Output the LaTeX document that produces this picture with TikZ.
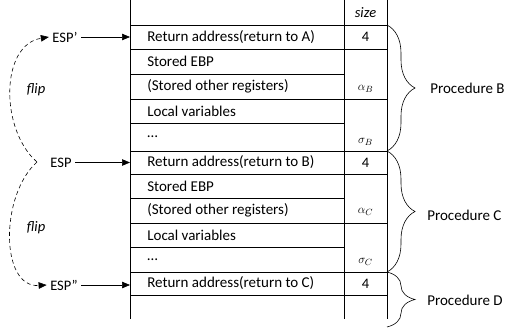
\documentclass[tikz,border=0pt]{standalone}
\usepackage{fontspec}
\setmainfont{Carlito}
\usetikzlibrary{arrows.meta,positioning,calc,decorations.pathreplacing}

\begin{document}
\begin{tikzpicture}[x=1pt, y=-1pt, >={Triangle[length=8pt,width=6.5pt]}, line width=0.6pt, font=\fontsize{14.5}{17}\selectfont]
\tikzstyle{row}=[anchor=west, inner sep=0pt, font=\fontsize{15}{17}\selectfont]
\tikzstyle{cell}=[inner sep=0pt]
\tikzstyle{sz}=[inner sep=0pt, font=\fontsize{13}{15}\selectfont]
\tikzstyle{flipline}=[dash pattern=on 4pt off 3pt]
\tikzstyle{curly}=[decorate, decoration={brace, amplitude=28pt}]
\useasboundingbox (0,0) rectangle (509,335);

% the stack
\draw (130,0) -- (130,319);
\draw (344,0) -- (344,319);
\draw (387,0) -- (387,319);
\foreach \y in {25,49,99,151,174,223,272,295}
  \draw (130,\y) -- (387,\y);
\foreach \y in {74,123,198,247}
  \draw (130,\y) -- (344,\y);

\node[cell]  (size) at (365.5,13)  {\itshape size};
\node[row]   (rA)   at (147,37)    {Return address(return to A)};
\node[cell]  (nA)   at (365.5,37)  {4};
\node[row]   (ebpB) at (147,61.5)  {Stored EBP};
\node[row]   (regB) at (147,86.5)  {(Stored other registers)};
\node[sz]    (aB)   at (365.5,89)  {$\alpha_B$};
\node[row]   (locB) at (147,111)   {Local variables};
\node[row]   (dotB) at (147,137)   {…};
\node[sz]    (sB)   at (365.5,142) {$\sigma_B$};
\node[row]   (rB)   at (147,162.5) {Return address(return to B)};
\node[cell]  (nB)   at (365.5,162.5) {4};
\node[row]   (ebpC) at (147,186)   {Stored EBP};
\node[row]   (regC) at (147,210.5) {(Stored other registers)};
\node[sz]    (aC)   at (365.5,212) {$\alpha_C$};
\node[row]   (locC) at (147,235)   {Local variables};
\node[row]   (dotC) at (147,259.5) {…};
\node[sz]    (sC)   at (365.5,262) {$\sigma_C$};
\node[row]   (rC)   at (147,283.5) {Return address(return to C)};
\node[cell]  (nC)   at (365.5,283.5) {4};

% stack pointers
\node (espp)  at (65,37)    {ESP'};
\node (esp)   at (61,162.5) {ESP};
\node (esppp) at (64,285)   {ESP''};
\coordinate (tA) at (130,37);
\coordinate (tB) at (130,162.5);
\coordinate (tC) at (130,285);
\coordinate (f0) at (37,162);
\draw[->] (espp) -- (tA);
\draw[->] (esp) -- (tB);
\draw[->] (esppp) -- (tC);
\draw[flipline,->] (f0) .. controls (0,130) and (0,45) .. (espp.west);
\draw[flipline,->] (f0) .. controls (0,195) and (0,288) .. (esppp.west);
\node (flip1) at (36,90)  {\itshape flip};
\node (flip2) at (36,228) {\itshape flip};

% procedures
\draw[curly] (387,25) -- (387,151);
\draw[curly] (387,151) -- (387,272);
\draw[curly] (387,272) -- (387,327);
\node[row] (pB) at (430,88)  {Procedure B};
\node[row] (pC) at (427,215) {Procedure C};
\node[row] (pD) at (427,300) {Procedure D};
\end{tikzpicture}
\end{document}
